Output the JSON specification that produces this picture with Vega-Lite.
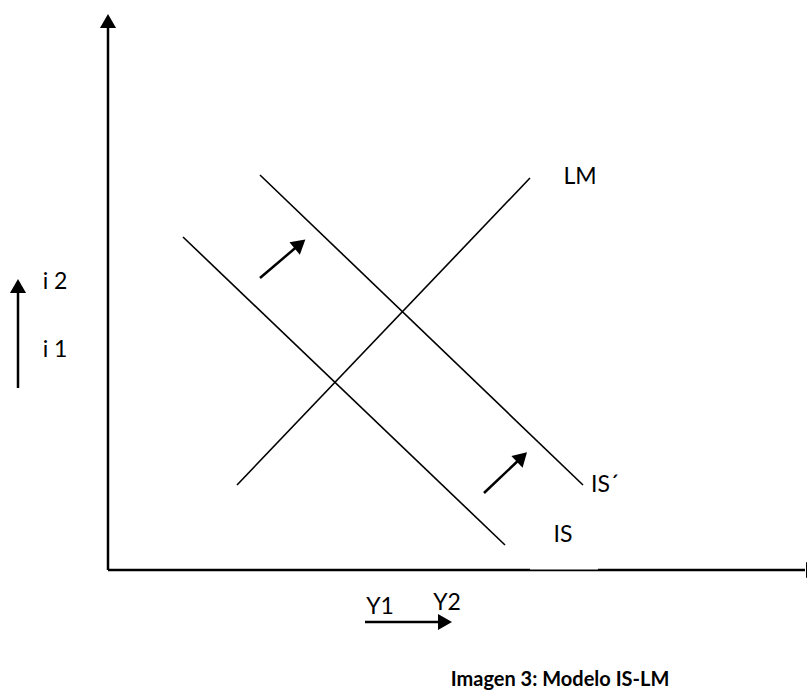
{
  "$schema": "https://vega.github.io/schema/vega-lite/v6.json",
  "width": 807,
  "height": 692,
  "autosize": {"type": "none"},
  "padding": 0,
  "background": "white",
  "config": {"view": {"stroke": null}},
  "datasets": {
    "lines": [
      {"name": "y axis", "kind": "axis", "x": 0, "y": 0, "x2": 0, "y2": 545},
      {"name": "x axis", "kind": "axis", "x": 0, "y": 0, "x2": 697, "y2": 0},
      {"name": "IS", "kind": "curve", "x": 75, "y": 333, "x2": 397, "y2": 25},
      {"name": "IS´", "kind": "curve", "x": 152, "y": 395, "x2": 475, "y2": 85},
      {"name": "LM", "kind": "curve", "x": 129, "y": 85, "x2": 422, "y2": 392},
      {"name": "shift 1", "kind": "arrow", "x": 152, "y": 292, "x2": 192, "y2": 326},
      {"name": "shift 2", "kind": "arrow", "x": 376, "y": 77, "x2": 414, "y2": 113},
      {"name": "i rise", "kind": "arrow", "x": -90, "y": 182, "x2": -90, "y2": 280},
      {"name": "Y rise", "kind": "arrow", "x": 257, "y": -52, "x2": 336, "y2": -52}
    ],
    "gap": [
      {"x": 422, "y": 1.3, "x2": 490, "y2": 1.3}
    ],
    "heads": [
      {"name": "y axis", "x": 0, "y": 549, "angle": 0},
      {"name": "x axis", "x": 705, "y": 0, "angle": 90},
      {"name": "shift 1", "x": 192, "y": 326, "angle": 50},
      {"name": "shift 2", "x": 414, "y": 113, "angle": 46},
      {"name": "i rise", "x": -90, "y": 284, "angle": 0},
      {"name": "Y rise", "x": 337, "y": -52, "angle": 90}
    ],
    "labels": [
      {"text": "LM", "x": 472, "y": 393},
      {"text": "IS´", "x": 497, "y": 85},
      {"text": "IS", "x": 455, "y": 35},
      {"text": "i 2", "x": -53, "y": 288},
      {"text": "i 1", "x": -53, "y": 220},
      {"text": "Y1", "x": 272, "y": -37},
      {"text": "Y2", "x": 339, "y": -33}
    ],
    "caption": [
      {"text": "Imagen 3: Modelo IS-LM", "x": 452, "y": -110}
    ]
  },
  "layer": [
    {
      "data": {"name": "lines"},
      "transform": [{"filter": "datum.kind === 'axis'"}],
      "mark": {"type": "rule", "color": "black", "strokeWidth": 2.5},
      "encoding": {
        "x": {"field": "x", "type": "quantitative", "scale": {"domain": [-108, 699], "nice": false, "zero": false}, "axis": null},
        "y": {"field": "y", "type": "quantitative", "scale": {"domain": [-122, 570], "nice": false, "zero": false}, "axis": null},
        "x2": {"field": "x2"},
        "y2": {"field": "y2"}
      }
    },
    {
      "data": {"name": "gap"},
      "mark": {"type": "rule", "color": "white", "strokeWidth": 1.6},
      "encoding": {
        "x": {"field": "x", "type": "quantitative"},
        "y": {"field": "y", "type": "quantitative"},
        "x2": {"field": "x2"},
        "y2": {"field": "y2"}
      }
    },
    {
      "data": {"name": "lines"},
      "transform": [{"filter": "datum.kind === 'curve'"}],
      "mark": {"type": "rule", "color": "black", "strokeWidth": 1.6},
      "encoding": {
        "x": {"field": "x", "type": "quantitative"},
        "y": {"field": "y", "type": "quantitative"},
        "x2": {"field": "x2"},
        "y2": {"field": "y2"}
      }
    },
    {
      "data": {"name": "lines"},
      "transform": [{"filter": "datum.kind === 'arrow'"}],
      "mark": {"type": "rule", "color": "black", "strokeWidth": 2.5},
      "encoding": {
        "x": {"field": "x", "type": "quantitative"},
        "y": {"field": "y", "type": "quantitative"},
        "x2": {"field": "x2"},
        "y2": {"field": "y2"}
      }
    },
    {
      "data": {"name": "heads"},
      "mark": {"type": "point", "shape": "triangle-up", "filled": true, "color": "black", "opacity": 1, "size": 260, "strokeWidth": 0},
      "encoding": {
        "x": {"field": "x", "type": "quantitative"},
        "y": {"field": "y", "type": "quantitative"},
        "angle": {"field": "angle", "type": "quantitative", "scale": null}
      }
    },
    {
      "data": {"name": "labels"},
      "mark": {"type": "text", "font": "Lato", "fontSize": 23, "color": "black", "align": "center", "baseline": "middle"},
      "encoding": {
        "x": {"field": "x", "type": "quantitative"},
        "y": {"field": "y", "type": "quantitative"},
        "text": {"field": "text"}
      }
    },
    {
      "data": {"name": "caption"},
      "mark": {"type": "text", "font": "Lato", "fontSize": 20, "fontWeight": "bold", "color": "black", "align": "center", "baseline": "middle"},
      "encoding": {
        "x": {"field": "x", "type": "quantitative"},
        "y": {"field": "y", "type": "quantitative"},
        "text": {"field": "text"}
      }
    }
  ]
}
